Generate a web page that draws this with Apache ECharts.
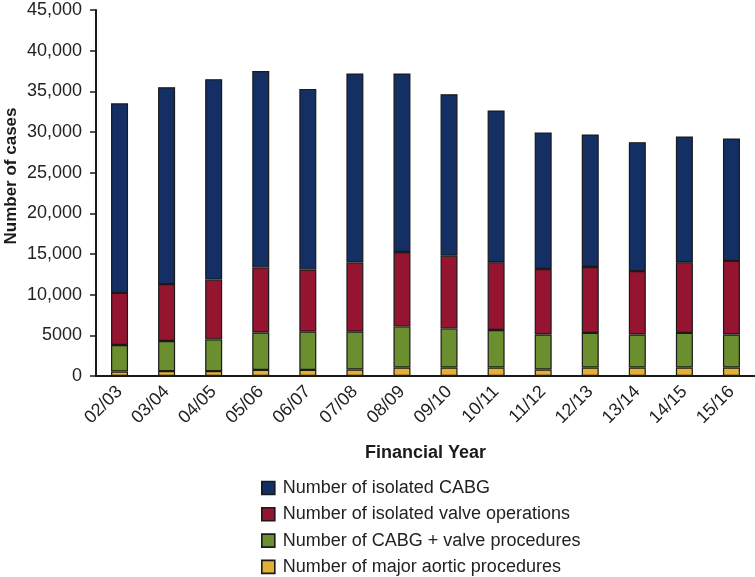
<!DOCTYPE html>
<html>
<head>
<meta charset="utf-8">
<script src="https://cdn.jsdelivr.net/npm/echarts@6/dist/echarts.min.js"></script>
<style>
  html, body { margin: 0; padding: 0; background: #fff; }
  #chart { width: 755px; height: 577px; }
</style>
</head>
<body>
<div id="chart"></div>
<script>
// financial years
const years = ['02/03', '03/04', '04/05', '05/06', '06/07', '07/08', '08/09',
  '09/10', '10/11', '11/12', '12/13', '13/14', '14/15', '15/16']

// stacked segments, bottom to top
const aortic = [550, 600, 600, 750, 750, 800, 1050, 1050, 1050, 800, 1050, 1050, 1050, 1050]
const cabgValve = [3270, 3700, 3900, 4600, 4700, 4650, 5050, 4800, 4600, 4300, 4250, 4050, 4250, 4050]
const valve = [6400, 7000, 7350, 8000, 7650, 8500, 9150, 8950, 8350, 8050, 8100, 7800, 8700, 9050]
const cabg = [23300, 24200, 24650, 24150, 22200, 23250, 21950, 19850, 18650, 16800, 16300, 15850, 15450, 15050]

const names = {
  cabg: 'Number of isolated CABG',
  valve: 'Number of isolated valve operations',
  cabgValve: 'Number of CABG + valve procedures',
  aortic: 'Number of major aortic procedures',
}

const font = 'Liberation Sans, Arial, sans-serif'
const ink = '#1a1a1a'

const chart = echarts.init(document.getElementById('chart'))

const bar = (name, data, color) => ({
  name,
  type: 'bar',
  stack: 'total',
  data,
  barWidth: 17,
  itemStyle: { color, borderColor: ink, borderWidth: 1.2 },
  emphasis: { disabled: true },
})

chart.setOption({
  animation: false,
  textStyle: { fontFamily: font },
  grid: { left: 96, right: 0, top: 10, bottom: 201, containLabel: false, outerBoundsMode: 'none' },
  legend: {
    data: [names.cabg, names.valve, names.cabgValve, names.aortic],
    orient: 'vertical',
    left: 261,
    top: 479,
    height: 120,
    padding: 0,
    itemWidth: 13,
    itemHeight: 13,
    itemGap: 8.3,
    icon: 'rect',
    itemStyle: { borderColor: ink, borderWidth: 1.6 },
    textStyle: { fontSize: 18, lineHeight: 18, color: '#222', fontFamily: font, padding: [0, 0, 0, 3] },
  },
  xAxis: {
    type: 'category',
    data: years,
    name: 'Financial Year',
    nameLocation: 'middle',
    nameGap: 68,
    nameMoveOverlap: false,
    nameTextStyle: { fontSize: 18, fontWeight: 'bold', color: ink, fontFamily: font },
    axisLine: { lineStyle: { color: ink, width: 2 } },
    axisTick: { alignWithLabel: true, length: 5, lineStyle: { color: ink, width: 1.5 } },
    axisLabel: { rotate: 45, fontSize: 18, color: '#222', margin: 13, fontFamily: font },
  },
  yAxis: {
    type: 'value',
    min: 0,
    max: 45000,
    interval: 5000,
    name: 'Number of cases',
    nameLocation: 'middle',
    nameGap: 76,
    nameMoveOverlap: false,
    nameTextStyle: { fontSize: 17, fontWeight: 'bold', color: ink, fontFamily: font, padding: [0, 0, 0, 34] },
    axisLine: { show: true, lineStyle: { color: ink, width: 2 } },
    axisTick: { show: true, length: 6, lineStyle: { color: ink, width: 1.5 } },
    splitLine: { show: false },
    axisLabel: {
      fontSize: 18,
      color: '#222',
      margin: 14,
      fontFamily: font,
      formatter: v => v >= 10000 ? v.toLocaleString('en-US') : String(v),
    },
  },
  series: [
    bar(names.aortic, aortic, '#e2b033'),
    bar(names.cabgValve, cabgValve, '#6b8e2f'),
    bar(names.valve, valve, '#95142f'),
    bar(names.cabg, cabg, '#132f64'),
  ],
})
</script>
</body>
</html>
